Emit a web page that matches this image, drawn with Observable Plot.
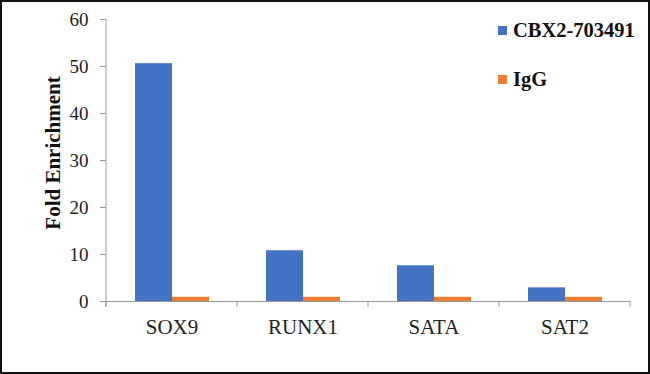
<!DOCTYPE html>
<html>
<head>
<meta charset="utf-8">
<script src="https://cdn.jsdelivr.net/npm/d3@7"></script>
<script src="https://cdn.jsdelivr.net/npm/@observablehq/plot@0.6"></script>
<style>
  html, body { margin: 0; padding: 0; background: #fff; }
  #wrap { position: relative; width: 650px; height: 374px; overflow: hidden; font-family: "Liberation Serif", "Times New Roman", serif; }
  #border { position: absolute; left: 0; top: 0; width: 650px; height: 374px; box-sizing: border-box; border: 2px solid #111; pointer-events: none; }
  #legend { position: absolute; left: 498px; top: 19px; font-weight: bold; font-size: 20.5px; color: #111; }
  .item { display: flex; align-items: center; height: 22px; }
  .sw { width: 9px; height: 9px; margin-right: 6px; }
  svg text { font-family: "Liberation Serif", "Times New Roman", serif !important; }
</style>
</head>
<body>
<div id="wrap">
  <div id="chart"></div>
  <div id="legend"></div>
  <div id="border"></div>
</div>
<script>
const categories = ["SOX9", "RUNX1", "SATA", "SAT2"];
const seriesNames = ["CBX2-703491", "IgG"];
const cbx2Values = [50.6, 10.8, 7.6, 2.9];
const iggValues = [0.9, 0.9, 0.9, 0.9];
const seriesColors = ["#4472C4", "#ED7D31"];
const yTicks = [0, 10, 20, 30, 40, 50, 60];
const serif = "Liberation Serif";

const data = categories.flatMap((c, i) => [
  {category: c, series: seriesNames[0], value: cbx2Values[i]},
  {category: c, series: seriesNames[1], value: iggValues[i]}
]);

const plot = Plot.plot({
  width: 650,
  height: 374,
  marginLeft: 106,
  marginRight: 20,
  marginTop: 19,
  marginBottom: 73,
  style: {fontFamily: serif, color: "#222", background: "transparent"},
  fx: {domain: categories, padding: 0, label: null},
  x: {domain: seriesNames, paddingInner: 0, paddingOuter: 0.75, axis: null},
  y: {domain: [0, 60], label: null},
  color: {domain: seriesNames, range: seriesColors},
  marks: [
    Plot.barY(data, {fx: "category", x: "series", y: "value", fill: "series"}),
    Plot.ruleY([0], {stroke: "#999", strokeWidth: 1}),
    Plot.axisY({ticks: yTicks, tickSize: 6, tickPadding: 12, fontSize: 19, fontFamily: serif, stroke: "#999", fill: "#222", label: null}),
    Plot.axisFx({anchor: "bottom", tickSize: 0, tickPadding: 18, fontSize: 21, fontFamily: serif, fill: "#222", label: null})
  ]
});

document.getElementById("chart").appendChild(plot);

// axis line on the left and category boundary ticks, from the plot's scales
const fx = plot.scale("fx");
const y = plot.scale("y");
const svg = d3.select(plot);
const y0 = y.apply(0), yTop = y.apply(60);
const left = fx.apply(categories[0]);
const bounds = categories.map(c => fx.apply(c)).concat([fx.apply(categories[categories.length - 1]) + fx.bandwidth]);
const g = svg.append("g").attr("stroke", "#999").attr("stroke-width", 1);
g.append("line").attr("x1", left).attr("x2", left).attr("y1", yTop).attr("y2", y0 + 6);
bounds.forEach(b => g.append("line").attr("x1", b).attr("x2", b).attr("y1", y0).attr("y2", y0 + 6));

// legend
const legend = document.getElementById("legend");
seriesNames.forEach((s, i) => {
  const it = document.createElement("div");
  it.className = "item";
  it.style.marginBottom = i === 0 ? "27px" : "0";
  const sw = document.createElement("span");
  sw.className = "sw";
  sw.style.background = seriesColors[i];
  const t = document.createElement("span");
  t.textContent = s;
  it.appendChild(sw); it.appendChild(t);
  legend.appendChild(it);
});

// y-axis title
svg.append("text")
  .attr("transform", `translate(53,${y.apply(31.5)}) rotate(-90)`)
  .attr("text-anchor", "middle")
  .attr("dominant-baseline", "central")
  .attr("font-weight", "bold")
  .attr("font-size", 21)
  .attr("fill", "#111")
  .text("Fold Enrichment");
</script>
</body>
</html>
